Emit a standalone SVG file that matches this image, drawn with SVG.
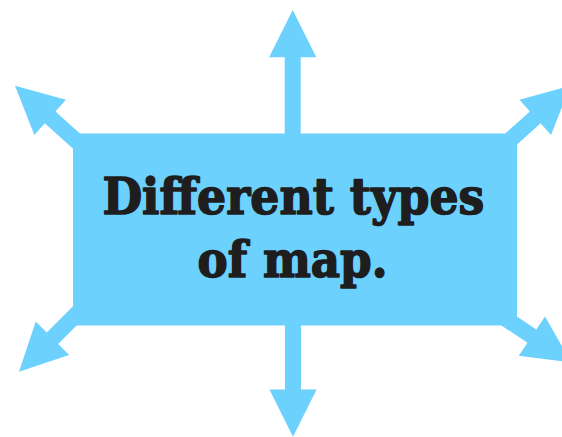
<svg xmlns="http://www.w3.org/2000/svg" xmlns:xlink="http://www.w3.org/1999/xlink" width="562" height="437" viewBox="0 0 562 437">
<style>
.arrow{fill:#6dd1fe;}
.box{fill:#6dd1fe;}
.label{font-family:"DejaVu Serif","Liberation Serif",serif;font-weight:bold;font-size:50px;fill:#1e1e1e;stroke:#1e1e1e;stroke-width:1.6px;stroke-linejoin:round;text-anchor:middle;}
</style>
<defs>
<polygon id="arr" points="0,0 -47.3,-23.6 -47.3,-8 -130,-8 -130,8 -47.3,8 -47.3,23.6"/>
</defs>
<g id="connectors">
<use xlink:href="#arr" class="arrow" transform="translate(292.7,10) rotate(-90)"/>
<use xlink:href="#arr" class="arrow" transform="translate(293,436.7) rotate(90)"/>
<use xlink:href="#arr" class="arrow" transform="translate(15,85.7) rotate(222)"/>
<use xlink:href="#arr" class="arrow" transform="translate(570.4,85.7) rotate(-42)"/>
<use xlink:href="#arr" class="arrow" transform="translate(19,371.7) rotate(135)"/>
<use xlink:href="#arr" class="arrow" transform="translate(571.2,362.5) rotate(33.8)"/>
</g>
<g id="main">
<rect class="box" x="73" y="133.5" width="444" height="192"/>
<text class="label" x="293.4" y="214" textLength="382" lengthAdjust="spacingAndGlyphs">Different types</text>
<text class="label" x="292.5" y="276.7" textLength="190" lengthAdjust="spacingAndGlyphs">of map.</text>
</g>
</svg>
